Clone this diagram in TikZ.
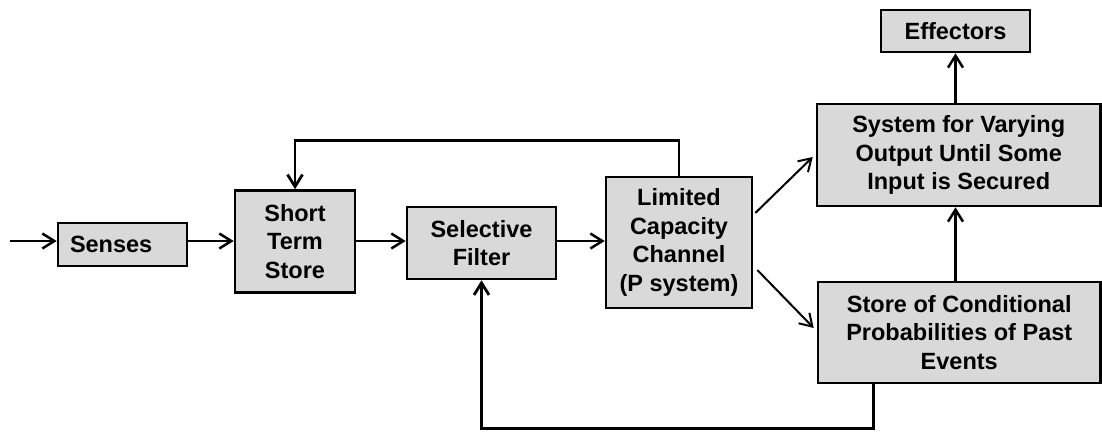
\documentclass[tikz,border=0pt]{standalone}
\usepackage{fontspec}
\setmainfont{Liberation Sans}
\usetikzlibrary{arrows.meta,calc}
\definecolor{boxgray}{HTML}{D9D9D9}
\tikzset{
  block/.style={draw=black, fill=boxgray, line width=2.6pt, inner sep=0pt,
    align=center, font=\bfseries\fontsize{23.5}{28.7}\selectfont},
  arr/.style={line width=2.5pt, -{Straight Barb[length=12pt,width=15pt]}},
  thinarr/.style={line width=2pt, -{Straight Barb[length=12pt,width=15pt]}},
  loopline/.style={line width=2.8pt}
}
\begin{document}
\begin{tikzpicture}[x=1pt,y=-1pt]
\useasboundingbox (0,0) rectangle (1102,432);

% boxes
\node[block, minimum height=43pt, text width=105pt, inner xsep=12pt, align=left]
  (senses) at (122.5,244.5) {Senses};
\node[block, minimum width=120pt, minimum height=102pt] (sts) at (295,241.5) {Short\\Term\\Store};
\node[block, minimum width=149pt, minimum height=72pt] (sf) at (481.5,243) {Selective\\Filter};
\node[block, minimum width=146pt, minimum height=131pt] (lcc) at (679,242.5) {Limited\\Capacity\\Channel\\(P system)};
\node[block, minimum width=149pt, minimum height=42pt] (eff) at (955.5,31) {Effectors};
\node[block, minimum width=283.5pt, minimum height=102pt] (sys) at (958.75,155)
  {System for Varying\\Output Until Some\\Input is Secured};
\node[block, minimum width=282.5pt, minimum height=101pt] (store) at (959.25,332.5)
  {Store of Conditional\\Probabilities of Past\\Events};

% input and forward path
\coordinate (in) at (10,241);
\draw[arr] (in) -- (in -| senses.west);
\draw[arr] (senses.east |- in) -- (in -| sts.west);
\draw[arr] (sts.east |- in) -- (in -| sf.west);
\draw[arr] (sf.east |- in) -- (in -| lcc.west);

% outputs of the channel
\draw[thinarr] ($(lcc.east)+(2,-29.5)$) -- ($(sys.west)+(-3,2)$);
\draw[thinarr] ($(lcc.east)+(4,27.5)$) -- ($(store.west)+(-3,-4.5)$);

% upward path to effectors
\draw[arr] (store.north -| eff) -- (sys.south -| eff);
\draw[arr] (sys.north -| eff) -- (eff.south);

% feedback loops
\draw[loopline, -{Straight Barb[length=12pt,width=15pt]}]
  (lcc.north) -- ++(0,-35) -| (sts.north);
\draw[loopline, -{Straight Barb[length=12pt,width=15pt]}]
  ($(store.south west)+(57,0)$) -- ++(0,44) -| (sf.south);
\end{tikzpicture}
\end{document}
